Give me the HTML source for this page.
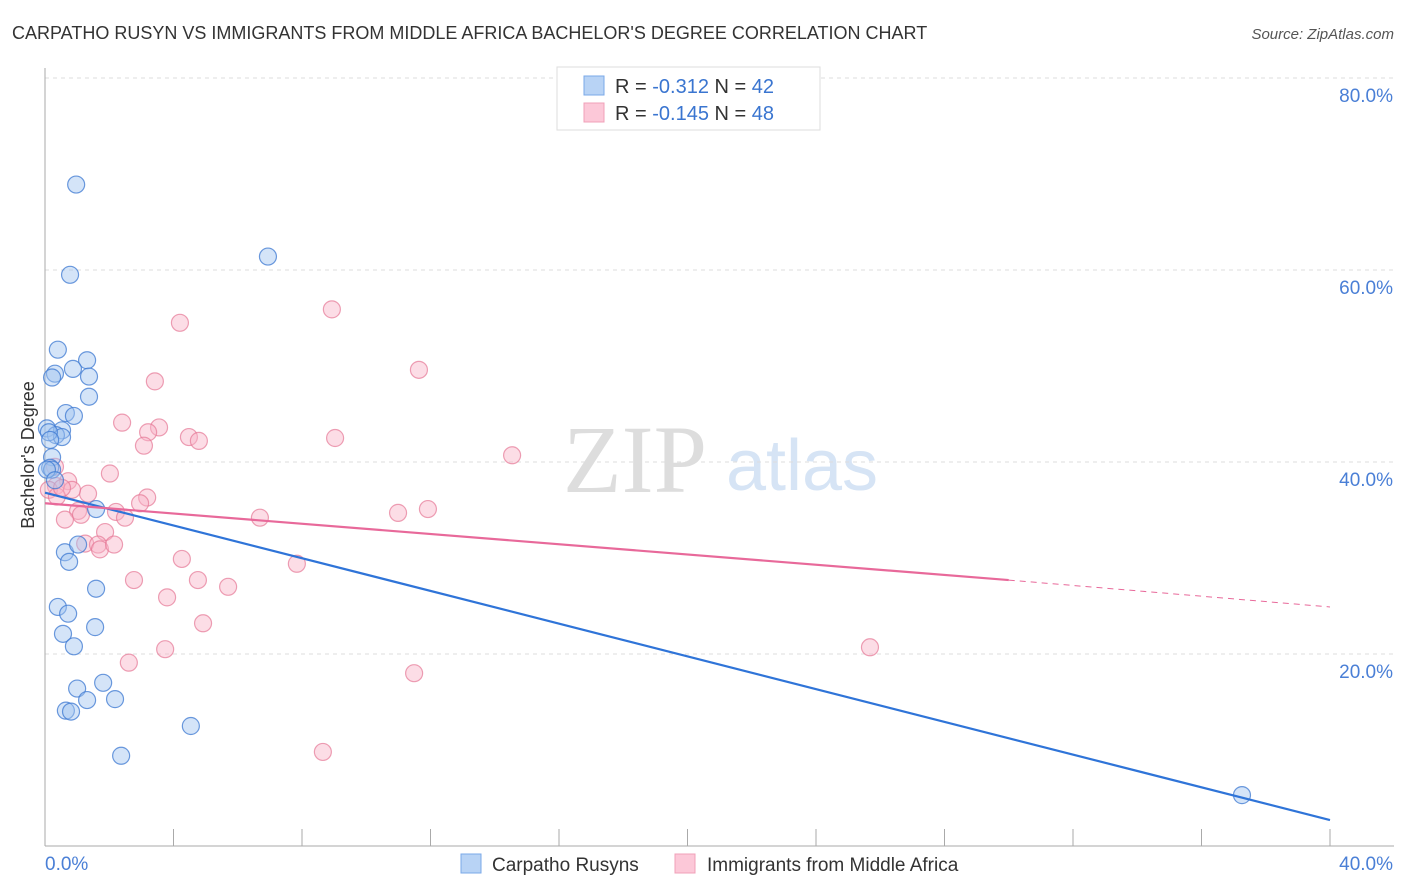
<!DOCTYPE html>
<html><head><meta charset="utf-8"><style>
body{margin:0;background:#fff;font-family:"Liberation Sans",sans-serif}
svg{display:block}
</style></head><body>
<svg id="chart" width="1406" height="892" viewBox="0 0 1406 892">
<text x="12" y="39" font-size="18" fill="#333">CARPATHO RUSYN VS IMMIGRANTS FROM MIDDLE AFRICA BACHELOR'S DEGREE CORRELATION CHART</text>
<text x="1394" y="39" font-size="15" fill="#555" font-style="italic" text-anchor="end">Source: ZipAtlas.com</text>
<g>
<text x="635" y="492" font-size="96" fill="#ddd" font-family="Liberation Serif,serif" text-anchor="middle">ZIP</text>
<text x="802" y="490" font-size="72" fill="#d6e4f5" text-anchor="middle">atlas</text>
</g>
<g id="grid"></g>
<g id="axes"></g>
<g id="marks"></g>
<text transform="translate(34,455) rotate(-90)" font-size="18" fill="#333" text-anchor="middle">Bachelor's Degree</text>
<g>
<rect x="557" y="67" width="263" height="63" fill="#fff" stroke="#ddd"/>
<rect x="584" y="76" width="20" height="19" fill="#b8d3f5" stroke="#7aa8e8"/>
<rect x="584" y="103" width="20" height="19" fill="#fcc8d8" stroke="#f0a0b8"/>
<text x="615" y="93" font-size="20" fill="#333">R = <tspan fill="#3a75d0">-0.312</tspan>   N = <tspan fill="#3a75d0">42</tspan></text>
<text x="615" y="120" font-size="20" fill="#333">R = <tspan fill="#3a75d0">-0.145</tspan>   N = <tspan fill="#3a75d0">48</tspan></text>
</g>
<g>
<rect x="461" y="854" width="20" height="19" fill="#b8d3f5" stroke="#7aa8e8"/>
<text x="492" y="871" font-size="19" fill="#333">Carpatho Rusyns</text>
<rect x="675" y="854" width="20" height="19" fill="#fcc8d8" stroke="#f0a0b8"/>
<text x="707" y="871" font-size="19" fill="#333">Immigrants from Middle Africa</text>
</g>
</svg>
<script>
const yTicks=[20,40,60,80];
const yTickLabels=["20.0%","40.0%","60.0%","80.0%"];
const xTickCount=10;
const blueX=[0.97,6.94,0.78,0.40,1.31,0.31,0.87,1.37,1.37,0.65,0.90,0.06,0.53,0.34,0.53,0.12,0.22,0.16,1.59,0.62,1.03,0.75,1.59,0.40,0.72,0.56,1.56,0.90,1.00,1.81,0.65,0.81,1.31,2.18,4.54,2.37,37.26,0.22,0.06,0.22,0.16,0.31];
const blueY=[68.9,61.4,59.5,51.7,50.6,49.2,49.7,48.9,46.8,45.1,44.8,43.5,43.3,42.8,42.6,43.1,40.5,39.4,35.1,30.6,31.4,29.6,26.8,24.9,24.2,22.1,22.8,20.8,16.4,17.0,14.1,14.0,15.2,15.3,12.5,9.4,5.3,39.2,39.2,48.8,42.3,38.1];
const pinkX=[4.20,8.93,3.42,11.64,2.40,3.55,3.21,3.08,4.48,4.79,9.03,14.54,2.02,0.31,0.72,0.34,0.12,1.34,0.84,3.18,2.96,0.37,1.03,1.12,0.62,2.21,2.49,6.69,10.99,11.92,1.87,1.25,1.65,1.71,2.15,4.26,7.84,2.77,4.76,5.70,3.80,4.92,2.61,3.74,25.68,11.49,8.65,0.53];
const pinkY=[54.5,55.9,48.4,49.6,44.1,43.6,43.1,41.7,42.6,42.2,42.5,40.7,38.8,39.5,38.0,37.5,37.1,36.7,37.1,36.3,35.7,36.4,34.9,34.5,34.0,34.8,34.2,34.2,34.7,35.1,32.7,31.5,31.4,30.9,31.4,29.9,29.4,27.7,27.7,27.0,25.9,23.2,19.1,20.5,20.7,18.0,9.8,37.3];
const blueTrend=[[0,36.8],[40,2.7]];
const pinkTrend=[[0,35.7],[30,27.7],[40,24.9]];

const NS="http://www.w3.org/2000/svg";
const X0=45,X1=1330,Y0=846,YS=9.6;
const sx=v=>X0+(X1-X0)*v/40;
const sy=v=>Y0-v*YS;
function mk(tag,attrs,parent){const e=document.createElementNS(NS,tag);for(const k in attrs)e.setAttribute(k,attrs[k]);parent.appendChild(e);return e;}
const grid=document.getElementById('grid'),axes=document.getElementById('axes'),marks=document.getElementById('marks');
yTicks.forEach((t,i)=>{
 const l=mk('line',{x1:X0,x2:1394,y1:sy(t),y2:sy(t),stroke:'#ddd','stroke-dasharray':'4,4'},grid);
 
 
 const tx=mk('text',{x:1393,y:sy(t)+24,'font-size':19,fill:'#4a7fd6','text-anchor':'end'},axes);
 tx.textContent=yTickLabels[i];
 
 
});
const ya=mk('line',{x1:X0,x2:X0,y1:68,y2:Y0,stroke:'#aaa'},axes);


const xa=mk('line',{x1:X0,x2:1394,y1:Y0,y2:Y0,stroke:'#aaa'},axes);


for(let i=1;i<=xTickCount;i++){
 const t=mk('line',{x1:sx(i*4),x2:sx(i*4),y1:Y0-17,y2:Y0,stroke:'#aaa'},axes);
 
 
}
const xl0=mk('text',{x:45,y:870,'font-size':19,fill:'#4a7fd6'},axes);xl0.textContent='0.0%';


const xl1=mk('text',{x:1393,y:870,'font-size':19,fill:'#4a7fd6','text-anchor':'end'},axes);xl1.textContent='40.0%';


pinkX.forEach((v,i)=>{
 const c=mk('circle',{cx:sx(v),cy:sy(pinkY[i]),r:8.5,fill:'rgba(248,180,200,0.45)',stroke:'rgba(230,120,150,0.7)','stroke-width':1.2},marks);
 
 
});
blueX.forEach((v,i)=>{
 const c=mk('circle',{cx:sx(v),cy:sy(blueY[i]),r:8.5,fill:'rgba(160,195,240,0.45)',stroke:'rgba(60,120,210,0.75)','stroke-width':1.2},marks);
 
 
});
const bt=mk('line',{x1:sx(blueTrend[0][0]),y1:sy(blueTrend[0][1]),x2:sx(blueTrend[1][0]),y2:sy(blueTrend[1][1]),stroke:'#2f74d8','stroke-width':2.2},marks);


const pt=mk('line',{x1:sx(pinkTrend[0][0]),y1:sy(pinkTrend[0][1]),x2:sx(pinkTrend[1][0]),y2:sy(pinkTrend[1][1]),stroke:'#e8699a','stroke-width':2.2},marks);


const pd=mk('line',{x1:sx(pinkTrend[1][0]),y1:sy(pinkTrend[1][1]),x2:sx(pinkTrend[2][0]),y2:sy(pinkTrend[2][1]),stroke:'#e8699a','stroke-width':1,'stroke-dasharray':'6,5'},marks);


</script>
</body></html>
